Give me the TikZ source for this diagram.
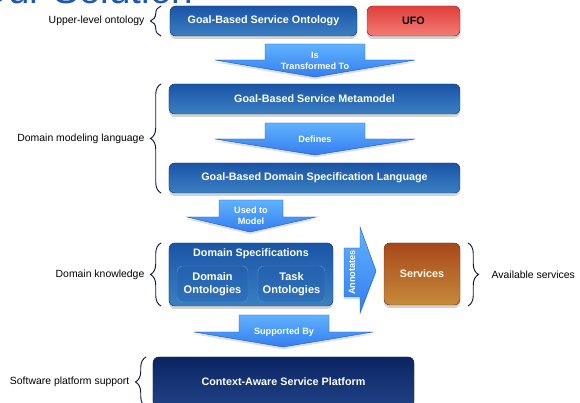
\documentclass[tikz,border=0pt]{standalone}
\usepackage{fontspec}
\setmainfont{Liberation Sans}
\usetikzlibrary{positioning,shadows,decorations.pathreplacing,calc}
\definecolor{barblue}{RGB}{27,84,166}
\definecolor{barbluelow}{RGB}{58,128,194}
\definecolor{inblue}{RGB}{36,96,174}
\definecolor{inbluelow}{RGB}{46,114,186}
\definecolor{inedge}{RGB}{80,140,210}
\definecolor{arrowtop}{RGB}{96,178,255}
\definecolor{arrowlow}{RGB}{52,126,240}
\definecolor{arrowline}{RGB}{32,92,210}
\definecolor{ufored}{RGB}{224,64,58}
\definecolor{uforedlow}{RGB}{242,124,118}
\definecolor{servtop}{RGB}{168,72,28}
\definecolor{servlow}{RGB}{198,138,58}
\definecolor{navytop}{RGB}{12,36,98}
\definecolor{navylow}{RGB}{32,66,134}
\definecolor{bracenavy}{RGB}{16,22,62}
\definecolor{titleblue}{RGB}{28,88,176}

\begin{document}
\begin{tikzpicture}[x=0.03cm,y=-0.03cm,
bar/.style={rounded corners=5pt,top color=barblue,bottom color=barbluelow,draw=barblue!70!black,text=white,font=\bfseries\fontsize{9.2}{11}\selectfont,align=center,inner sep=1pt,drop shadow={opacity=.35,shadow xshift=0pt,shadow yshift=-2.5pt}},
inbox/.style={rounded corners=5pt,top color=inblue,bottom color=inbluelow,draw=inedge,text=white,font=\bfseries\fontsize{9.4}{11}\selectfont,align=center,inner sep=1pt},
barrow/.style={top color=arrowtop,bottom color=arrowlow,draw=arrowline,line width=.4pt,drop shadow={opacity=.25,shadow xshift=0pt,shadow yshift=-2pt}},
arrowtext/.style={text=white,font=\bfseries\fontsize{7.8}{9.4}\selectfont,align=center,inner sep=0pt},
brc/.style={decorate,decoration={brace,amplitude=9pt},draw=bracenavy,line width=.8pt},
sidelabel/.style={font=\fontsize{8.9}{10.5}\selectfont,text=black,inner sep=1pt}
]
\useasboundingbox (0,0) rectangle (580,403);
\node[anchor=base west,text=titleblue,font=\fontsize{33}{36}\selectfont,inner sep=0pt] (title) at (-22,4) {Our Solution};

% boxes
\node[bar,minimum width=5.61cm,minimum height=.9cm] (gbso) at (263.5,21) {Goal-Based Service Ontology};
\node[bar,top color=ufored,bottom color=uforedlow,draw=ufored!60!black,text=black,minimum width=2.79cm,minimum height=.9cm] (ufo) at (413.5,21) {UFO};
\node[bar,minimum width=8.73cm,minimum height=.9cm] (gbsm) at (314.5,99) {Goal-Based Service Metamodel};
\node[bar,minimum width=8.73cm,minimum height=.9cm] (gbdsl) at (314.5,178) {Goal-Based Domain Specification Language};
\node[bar,minimum width=4.92cm,minimum height=1.89cm] (dspec) at (251,274.5) {};
\node[arrowtext,font=\bfseries\fontsize{9.2}{11}\selectfont] (dspectitle) at (251,254) {Domain Specifications};
\node[inbox,minimum width=2.13cm,minimum height=1.08cm] (domonto) at (212.5,284) {Domain\\Ontologies};
\node[inbox,minimum width=2.01cm,minimum height=1.08cm] (taskonto) at (291.5,284) {Task\\Ontologies};
\node[bar,top color=servtop,bottom color=servlow,draw=servtop!70!black,text=white!92!yellow,minimum width=2.28cm,minimum height=1.86cm] (serv) at (422,274) {Services};
\node[bar,top color=navytop,bottom color=navylow,draw=navytop,minimum width=7.83cm,minimum height=1.5cm] (csp) at (283.5,382) {Context-Aware Service Platform};

% block arrows
\path[barrow] (265,44) -- (365,44) -- (365,60) -- (415,60) -- (315,77) -- (215,60) -- (265,60) -- cycle;
\node[arrowtext] (istrans) at (315,60.5) {Is\\Transformed To};
\path[barrow] (265,123) -- (365,123) -- (365,139) -- (415,139) -- (315,155) -- (215,139) -- (265,139) -- cycle;
\node[arrowtext] (defines) at (315,139) {Defines};
\path[barrow] (219,200) -- (283,200) -- (283,217) -- (316,217) -- (250,232) -- (187,217) -- (219,217) -- cycle;
\node[arrowtext] (usedto) at (251,216) {Used to\\Model};
\path[barrow] (344,248) -- (360,248) -- (360,227) -- (376,271) -- (360,313) -- (360,297) -- (344,297) -- cycle;
\node[arrowtext,rotate=90] (annot) at (352,272.5) {Annotates};
\path[barrow] (239,315) -- (329,315) -- (329,332) -- (373,332) -- (283,347) -- (194,332) -- (239,332) -- cycle;
\node[arrowtext] (suppby) at (284,332) {Supported By};

% braces
\draw[brc] (161,36) -- coordinate[pos=.5] (ulom) (161,6);
\node[sidelabel,left=13pt of ulom] (ulo) {Upper-level ontology};
\draw[brc] (161,193) -- coordinate[pos=.5] (dmlm) (161,84);
\node[sidelabel,left=13pt of dmlm] (dml) {Domain modeling language};
\draw[brc] (161,306) -- coordinate[pos=.5] (dkm) (161,243);
\node[sidelabel,left=13pt of dkm] (dk) {Domain knowledge};
\draw[brc] (146,407) -- coordinate[pos=.5] (spsm) (146,357);
\node[sidelabel,left=13pt of spsm] (sps) {Software platform support};
\draw[brc] (468,243) -- coordinate[pos=.5] (avsm) (468,306);
\node[sidelabel,right=19pt of avsm] (avs) {Available services};
\end{tikzpicture}
\end{document}
